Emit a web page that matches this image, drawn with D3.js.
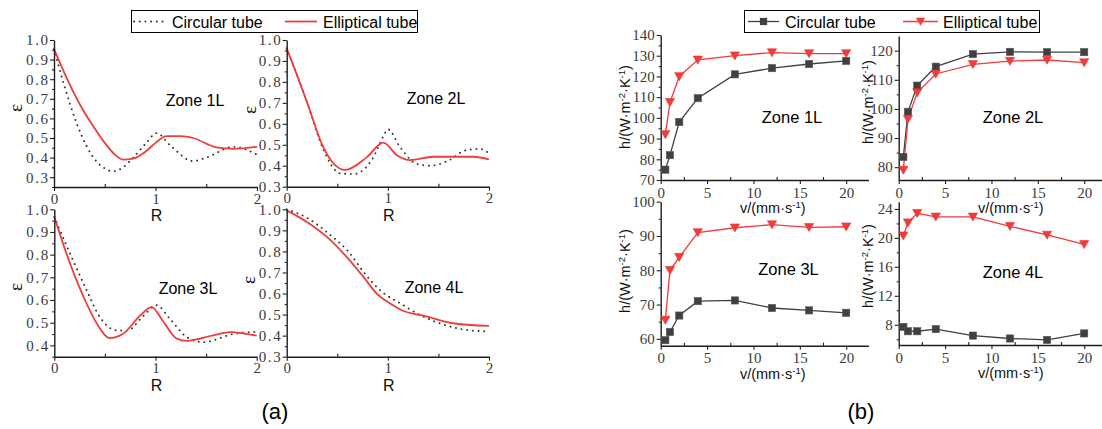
<!DOCTYPE html>
<html>
<head>
<meta charset="utf-8">
<script src="https://cdn.jsdelivr.net/npm/d3@7/dist/d3.min.js"></script>
<style>
  body { margin: 0; background: #fff; }
  svg { display: block; }
</style>
</head>
<body>
<svg id="fig" width="1102" height="429"></svg>
<script>
// ---------- Panel (a): void fraction ε versus R, one profile per zone ----------
const zoneNames = ["Zone 1L", "Zone 2L", "Zone 3L", "Zone 4L"];
const seriesNames = ["Circular tube", "Elliptical tube"];

// [R, ε] samples for the circular tube
const epsCirc1L = [[0,0.955],[0.1,0.77],[0.22,0.58],[0.32,0.46],[0.42,0.38],[0.5,0.345],[0.585,0.33],[0.68,0.35],[0.78,0.40],[0.91,0.475],[1.01,0.525],[1.15,0.46],[1.37,0.382],[1.5,0.40],[1.77,0.455],[2,0.415]];
const epsCirc2L = [[0,0.96],[0.1,0.835],[0.2,0.705],[0.36,0.48],[0.527,0.364],[0.66,0.36],[0.856,0.44],[0.955,0.54],[1.0,0.574],[1.12,0.49],[1.28,0.41],[1.42,0.40],[1.58,0.42],[1.78,0.475],[1.91,0.48],[2,0.46]];
const epsCirc3L = [[0,0.967],[0.17,0.79],[0.32,0.643],[0.45,0.525],[0.62,0.466],[0.72,0.465],[0.88,0.53],[1.01,0.577],[1.14,0.518],[1.31,0.436],[1.47,0.414],[1.77,0.45],[2,0.46]];
const epsCirc4L = [[0,1.0],[0.21,0.957],[0.41,0.886],[0.626,0.79],[0.757,0.704],[0.92,0.617],[1.12,0.554],[1.32,0.498],[1.51,0.459],[1.78,0.427],[2,0.42]];

// [R, ε] samples for the elliptical tube
const epsEll1L = [[0,0.955],[0.1,0.835],[0.2,0.725],[0.3,0.63],[0.4,0.55],[0.5,0.475],[0.6,0.415],[0.68,0.39],[0.78,0.395],[0.9,0.43],[1.0,0.475],[1.11,0.51],[1.25,0.51],[1.37,0.50],[1.6,0.452],[1.77,0.445],[2,0.455]];
const epsEll2L = [[0,0.96],[0.1,0.835],[0.2,0.705],[0.36,0.49],[0.576,0.38],[0.79,0.44],[0.955,0.51],[1.09,0.45],[1.22,0.427],[1.45,0.443],[1.85,0.443],[2,0.43]];
const epsEll3L = [[0,0.967],[0.12,0.805],[0.29,0.613],[0.42,0.496],[0.55,0.432],[0.68,0.451],[0.85,0.532],[0.96,0.569],[1.08,0.503],[1.21,0.43],[1.31,0.42],[1.57,0.444],[1.74,0.458],[1.9,0.45],[2,0.443]];
const epsEll4L = [[0,0.995],[0.2,0.94],[0.395,0.87],[0.59,0.775],[0.757,0.68],[0.89,0.60],[1.02,0.554],[1.15,0.518],[1.37,0.493],[1.63,0.46],[2,0.446]];

const epsDomains = [[0.25,1.0],[0.3,1.0],[0.35,1.0],[0.3,1.0]];
const epsTicksFull = [0.3,0.4,0.5,0.6,0.7,0.8,0.9,1.0];
const epsTicks3L = [0.4,0.5,0.6,0.7,0.8,0.9,1.0];
const epsMinor = [0.25,0.35,0.45,0.55,0.65,0.75,0.85,0.95];
const rTicks = [0,1,2];
const rMinor = [0.5,1.5];

// ---------- Panel (b): heat transfer coefficient h versus velocity v ----------
const speeds = [0.5,1,2,4,8,12,16,20];
const hCirc1L = [75,82,98,109.5,121,124,126,127.5];
const hEll1L  = [92,107.5,120,128,130,131.5,131,131];
const hCirc2L = [83.5,99,108,114.5,118.8,119.6,119.5,119.5];
const hEll2L  = [79,96.5,105.6,112,115.3,116.4,116.8,115.9];
const hCirc3L = [59.6,62,66.8,71,71.2,69,68.3,67.6];
const hEll3L  = [65.5,80,83.8,91,92.4,93.3,92.5,92.7];
const hCirc4L = [7.7,7.1,7.1,7.4,6.5,6.1,5.9,6.8];
const hEll4L  = [20.3,22.1,23.4,22.9,22.9,21.6,20.4,19.1];

const hDomains = [[70,140],[75.6,125],[58,100],[5.2,25]];
const hTicks = [[70,80,90,100,110,120,130,140],[80,90,100,110,120],[60,70,80,90,100],[8,12,16,20,24]];
const hMinor = [[75,85,95,105,115,125,135],[85,95,105,115],[65,75,85,95],[6,10,14,18,22]];
const vDomain = [0,22.4];
const vTicks = [0,5,10,15,20];
const vMinor = [2.5,7.5,12.5,17.5];

// ---------- styling ----------
const RED = "#f23b3b";
const GREY = "#404040";
const AXIS = "#1e1e1e";
const SERIF = "'Liberation Serif', 'DejaVu Serif', serif";
const SANS = "'Liberation Sans', Arial, sans-serif";

const svg = d3.select("#fig");

function styleAxis(g, letterSpacing) {
  g.attr("font-family", SERIF).attr("font-size", 15);
  g.selectAll("line").attr("stroke", AXIS).attr("stroke-width", 1.1);
  g.selectAll(".domain").attr("stroke", AXIS).attr("stroke-width", 1.4);
  g.selectAll("text").attr("fill", "#3a3a3a");
  if (letterSpacing) g.selectAll("text").attr("letter-spacing", letterSpacing).attr("dx", letterSpacing);
}

// ---------- panel (a) ----------
const layoutA = [
  {x0:54,    x1:257, yb:187,   yt:40,    epsX:22,  epsY:108, zx:195, zy:106},
  {x0:286.7, x1:489, yb:186.7, yt:40,    epsX:256, epsY:110, zx:436, zy:104},
  {x0:54.3,  x1:256.7, yb:356.7, yt:209.3, epsX:22,  epsY:287, zx:188, zy:293.5},
  {x0:286.7, x1:489, yb:356.7, yt:209.3, epsX:255, epsY:280, zx:434, zy:292.5}
];
const circA = [epsCirc1L, epsCirc2L, epsCirc3L, epsCirc4L];
const ellA = [epsEll1L, epsEll2L, epsEll3L, epsEll4L];

zoneNames.forEach((zone, i) => {
  const L = layoutA[i];
  const x = d3.scaleLinear().domain([0, 2]).range([L.x0, L.x1]);
  const y = d3.scaleLinear().domain(epsDomains[i]).range([L.yb, L.yt]);
  const g = svg.append("g");

  const line = d3.line().x(d => x(d[0])).y(d => y(d[1])).curve(d3.curveMonotoneX);

  g.append("path").datum(circA[i]).attr("d", line)
    .attr("fill", "none").attr("stroke", "#333").attr("stroke-width", 1.9)
    .attr("stroke-linecap", "round").attr("stroke-dasharray", "0.1,5.6");
  g.append("path").datum(ellA[i]).attr("d", line)
    .attr("fill", "none").attr("stroke", RED).attr("stroke-width", 1.8);

  // x axis
  const gx = g.append("g").attr("transform", `translate(0,${L.yb})`)
    .call(d3.axisBottom(x).tickValues(rTicks).tickFormat(d3.format("d")).tickSize(4).tickSizeOuter(0).tickPadding(2));
  styleAxis(gx);
  const gxm = g.append("g").attr("transform", `translate(0,${L.yb})`)
    .call(d3.axisBottom(x).tickValues(rMinor).tickFormat("").tickSize(-3).tickSizeOuter(0));
  gxm.select(".domain").remove();
  styleAxis(gxm);

  // y axis
  const gy = g.append("g").attr("transform", `translate(${L.x0},0)`)
    .call(d3.axisLeft(y).tickValues(i === 2 ? epsTicks3L : epsTicksFull).tickFormat(d3.format(".1f")).tickSize(4).tickSizeOuter(0).tickPadding(2));
  styleAxis(gy, 1.6);
  const gym = g.append("g").attr("transform", `translate(${L.x0},0)`)
    .call(d3.axisLeft(y).tickValues(epsMinor.filter(v => v >= epsDomains[i][0])).tickFormat("").tickSize(2).tickSizeOuter(0));
  gym.select(".domain").remove();
  styleAxis(gym);

  // axis titles
  g.append("text").attr("x", (L.x0 + L.x1) / 2 + 1).attr("y", L.yb + 34)
    .attr("text-anchor", "middle").attr("font-family", SANS).attr("font-size", 16).attr("fill", "#111").text("R");
  g.append("text").attr("transform", `translate(${L.epsX},${L.epsY}) rotate(-90)`)
    .attr("text-anchor", "middle").attr("font-family", SERIF).attr("font-size", 19).attr("fill", "#111").text("ε");

  g.append("text").attr("x", L.zx).attr("y", L.zy).attr("text-anchor", "middle")
    .attr("font-family", SANS).attr("font-size", 16).attr("fill", "#000").text(zone);
});

// legend (a)
{
  const g = svg.append("g");
  g.append("rect").attr("x", 131.5).attr("y", 10.5).attr("width", 286).attr("height", 22)
    .attr("fill", "#fff").attr("stroke", "#000").attr("stroke-width", 1);
  g.append("line").attr("x1", 134).attr("x2", 165).attr("y1", 21.5).attr("y2", 21.5)
    .attr("stroke", "#333").attr("stroke-width", 1.9).attr("stroke-linecap", "round").attr("stroke-dasharray", "0.1,5.6");
  g.append("text").attr("x", 172).attr("y", 27.5).attr("font-family", SANS).attr("font-size", 16).text(seriesNames[0]);
  g.append("line").attr("x1", 285).attr("x2", 317).attr("y1", 21.5).attr("y2", 21.5)
    .attr("stroke", RED).attr("stroke-width", 1.8);
  g.append("text").attr("x", 323).attr("y", 27.5).attr("font-family", SANS).attr("font-size", 16).text(seriesNames[1]);
}

// ---------- panel (b) ----------
const layoutB = [
  {x0:660.7, yb:180,   yt:35,    tx:630, ty:107, zx:792,  zy:123},
  {x0:898.7, yb:180,   yt:36.1,  tx:873, ty:102, zx:1013, zy:123},
  {x0:660.7, yb:345.7, yt:201.7, tx:630, ty:271, zx:788.5, zy:275},
  {x0:898.7, yb:345,   yt:201.7, tx:873, ty:266, zx:1013, zy:277.5}
];
const circB = [hCirc1L, hCirc2L, hCirc3L, hCirc4L];
const ellB = [hEll1L, hEll2L, hEll3L, hEll4L];
const VSCALE = 9.275; // px per mm/s

const triDown = "M-4.6,-3.8L4.6,-3.8L0,4.2Z";

function hTitle(g, x, y) {
  const t = g.append("text").attr("transform", `translate(${x},${y}) rotate(-90)`)
    .attr("text-anchor", "middle").attr("font-family", SANS).attr("font-size", 14.5).attr("fill", "#111");
  t.append("tspan").text("h/(W·m");
  t.append("tspan").attr("dy", -5).attr("font-size", 9.5).text("-2");
  t.append("tspan").attr("dy", 5).text("·K");
  t.append("tspan").attr("dy", -5).attr("font-size", 9.5).text("-1");
  t.append("tspan").attr("dy", 5).text(")");
}
function vTitle(g, x, y) {
  const t = g.append("text").attr("x", x).attr("y", y)
    .attr("text-anchor", "middle").attr("font-family", SANS).attr("font-size", 14.5).attr("fill", "#111");
  t.append("tspan").text("v/(mm·s");
  t.append("tspan").attr("dy", -5).attr("font-size", 9.5).text("-1");
  t.append("tspan").attr("dy", 5).text(")");
}

zoneNames.forEach((zone, i) => {
  const L = layoutB[i];
  const x = d3.scaleLinear().domain(vDomain).range([L.x0, L.x0 + vDomain[1] * VSCALE]);
  const y = d3.scaleLinear().domain(hDomains[i]).range([L.yb, L.yt]);
  const g = svg.append("g");

  const line = d3.line().x((d, k) => x(speeds[k])).y(d => y(d));

  // x axis
  const gx = g.append("g").attr("transform", `translate(0,${L.yb})`)
    .call(d3.axisBottom(x).tickValues(vTicks).tickFormat(d3.format("d")).tickSize(4).tickSizeOuter(0).tickPadding(3));
  styleAxis(gx);
  const gxm = g.append("g").attr("transform", `translate(0,${L.yb})`)
    .call(d3.axisBottom(x).tickValues(vMinor).tickFormat("").tickSize(-3).tickSizeOuter(0));
  gxm.select(".domain").remove();
  styleAxis(gxm);

  // y axis
  const gy = g.append("g").attr("transform", `translate(${L.x0},0)`)
    .call(d3.axisLeft(y).tickValues(hTicks[i]).tickFormat(d3.format("d")).tickSize(4).tickSizeOuter(0).tickPadding(2));
  styleAxis(gy);
  const gym = g.append("g").attr("transform", `translate(${L.x0},0)`)
    .call(d3.axisLeft(y).tickValues(hMinor[i]).tickFormat("").tickSize(2).tickSizeOuter(0));
  gym.select(".domain").remove();
  styleAxis(gym);

  // series
  g.append("path").datum(circB[i]).attr("d", line).attr("fill", "none").attr("stroke", GREY).attr("stroke-width", 1.3);
  g.append("path").datum(ellB[i]).attr("d", line).attr("fill", "none").attr("stroke", RED).attr("stroke-width", 1.3);
  g.selectAll(".sq").data(circB[i]).join("rect")
    .attr("x", (d, k) => x(speeds[k]) - 3.6).attr("y", d => y(d) - 3.6)
    .attr("width", 7.2).attr("height", 7.2).attr("fill", GREY).attr("stroke", "#555").attr("stroke-width", 0.6);
  g.selectAll(".tri").data(ellB[i]).join("path")
    .attr("transform", (d, k) => `translate(${x(speeds[k])},${y(d)})`)
    .attr("d", triDown).attr("fill", RED).attr("stroke", "#e83030").attr("stroke-width", 0.6);

  hTitle(g, L.tx, L.ty);
  vTitle(g, L.x0 + 112, L.yb + 33);

  g.append("text").attr("x", L.zx).attr("y", L.zy).attr("text-anchor", "middle")
    .attr("font-family", SANS).attr("font-size", 16.5).attr("fill", "#000").text(zone);
});

// legend (b)
{
  const g = svg.append("g");
  g.append("rect").attr("x", 744.5).attr("y", 10.5).attr("width", 295).attr("height", 22)
    .attr("fill", "#fff").attr("stroke", "#000").attr("stroke-width", 1);
  g.append("line").attr("x1", 748).attr("x2", 779).attr("y1", 21.5).attr("y2", 21.5)
    .attr("stroke", GREY).attr("stroke-width", 1.3);
  g.append("rect").attr("x", 763.5 - 3.6).attr("y", 21.5 - 3.6).attr("width", 7.2).attr("height", 7.2).attr("fill", GREY);
  g.append("text").attr("x", 785).attr("y", 27.5).attr("font-family", SANS).attr("font-size", 16).text(seriesNames[0]);
  g.append("line").attr("x1", 903).attr("x2", 938).attr("y1", 21.5).attr("y2", 21.5)
    .attr("stroke", RED).attr("stroke-width", 1.3);
  g.append("path").attr("transform", "translate(920.5,21.5)").attr("d", triDown).attr("fill", RED);
  g.append("text").attr("x", 943).attr("y", 27.5).attr("font-family", SANS).attr("font-size", 16).text(seriesNames[1]);
}

// panel captions
svg.append("text").attr("x", 275).attr("y", 419).attr("text-anchor", "middle")
  .attr("font-family", SANS).attr("font-size", 22).text("(a)");
svg.append("text").attr("x", 861).attr("y", 419).attr("text-anchor", "middle")
  .attr("font-family", SANS).attr("font-size", 22).text("(b)");
</script>
</body>
</html>
